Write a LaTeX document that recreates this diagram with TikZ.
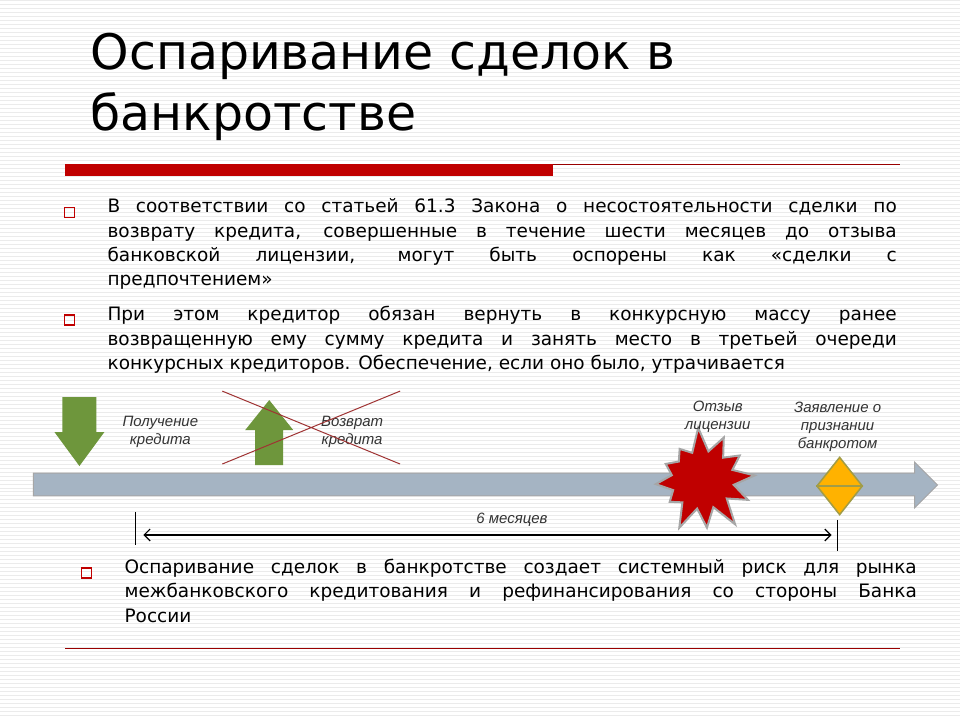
\documentclass[tikz,border=0pt]{standalone}
\usepackage{fontspec}
\setmainfont{DejaVu Sans}
\newfontfamily\lblfont{Liberation Sans}
\usetikzlibrary{shapes.geometric,shapes.symbols,arrows.meta}
\definecolor{tlc}{RGB}{165,180,195}
\definecolor{grc}{RGB}{110,150,60}
\definecolor{brc}{RGB}{192,0,0}
\tikzset{
 body/.style={anchor=north west,font=\fontsize{18.5}{24.5}\selectfont,text width=790pt,align=justify,inner sep=0pt},
 bul/.style={draw=brc,line width=1.4pt,minimum size=10pt,inner sep=0pt},
 lbl/.style={font=\lblfont\itshape\fontsize{15}{18}\selectfont,align=center,text=black!80,inner sep=0pt},
 grn/.style={fill=grc,draw=none},
}
\begin{document}
\begin{tikzpicture}[x=1pt,y=-1pt]
\fill[white] (0,0) rectangle (960,720);
\foreach \i in {0,4,...,716}{\draw[black!8,line width=1pt] (0,\i) -- (960,\i);}
\useasboundingbox (0,0) rectangle (960,720);
\node[anchor=north west,inner sep=0pt,align=left,font=\fontsize{49}{61}\selectfont] (title) at (90,33) {Оспаривание сделок в\\банкротстве};
\fill[brc] (65,164) rectangle (553,176);
\draw[red!60!black,line width=0.6pt] (553,164) -- (900,164);
\node[bul] (b1) at (69,212) {};
\node[body] (t1) at (107,198) {В соответствии со статьей 61.3 Закона о несостоятельности сделки по\linebreak возврату кредита, совершенные в течение шести месяцев до отзыва\linebreak банковской лицензии, могут быть оспорены как «сделки с\linebreak предпочтением»};
\node[bul] (b2) at (69,320) {};
\node[body] (t2) at (107,306) {При этом кредитор обязан вернуть в конкурсную массу ранее\linebreak возвращенную ему сумму кредита и занять место в третьей очереди\linebreak конкурсных кредиторов. Обеспечение, если оно было, утрачивается};
% timeline
\fill[tlc,draw=gray!70,line width=1pt] (33,473) -- (915,473) -- (915,462) -- (938,485) -- (915,508) -- (915,496) -- (33,496) -- cycle;
% green arrows
\fill[grn] (62,397) -- (96,397) -- (96,432) -- (104,432) -- (79,466) -- (54,432) -- (62,432) -- cycle;
\fill[grn] (255,465) -- (283,465) -- (283,430) -- (293,430) -- (269,400) -- (245,430) -- (255,430) -- cycle;
\node[lbl] (l1) at (160,432) {Получение\\кредита};
\node[lbl] (l2) at (352,432) {Возврат\\кредита};
\draw[brc!70!black!80,line width=1pt] (222,391) -- (400,464) (222,464) -- (400,391);
% star
\node[starburst,fill=brc,draw=gray!70,line width=2pt,minimum width=115pt,minimum height=110pt,starburst points=12,starburst point height=26pt,random starburst=7,rotate=5] (st) at (703,480) {};
\node[lbl] (l3) at (718,417) {Отзыв\\лицензии};
\node[diamond,fill=orange!60!yellow,draw=olive!80!black!70,line width=1.5pt,minimum width=46pt,minimum height=58pt,inner sep=0pt] (dm) at (840,486) {};
\draw[olive!80!black!70,line width=1.5pt] (dm.west) -- (dm.east);
\node[lbl] (l4) at (838,427) {Заявление о\\признании\\банкротом};
% interval
\coordinate (a1) at (135,512); \coordinate (a2) at (135,545);
\coordinate (c1) at (838,520); \coordinate (c2) at (838,551);
\draw[line width=0.8pt] (a1) -- (a2) (c1) -- (c2);
\coordinate (s1) at (143,535); \coordinate (s2) at (832,535);
\draw[{Straight Barb[length=6pt]}-{Straight Barb[length=6pt]},line width=1.2pt] (s1) -- (s2);
\node[lbl] (l5) at (512,520) {6 месяцев};
\node[bul] (b3) at (86,573) {};
\node[body,text width=793pt] (t3) at (124,559) {Оспаривание сделок в банкротстве создает системный риск для рынка\linebreak межбанковского кредитования и рефинансирования со стороны Банка\linebreak России};
\draw[red!60!black,line width=0.6pt] (65,648) -- (900,648);
\end{tikzpicture}
\end{document}
